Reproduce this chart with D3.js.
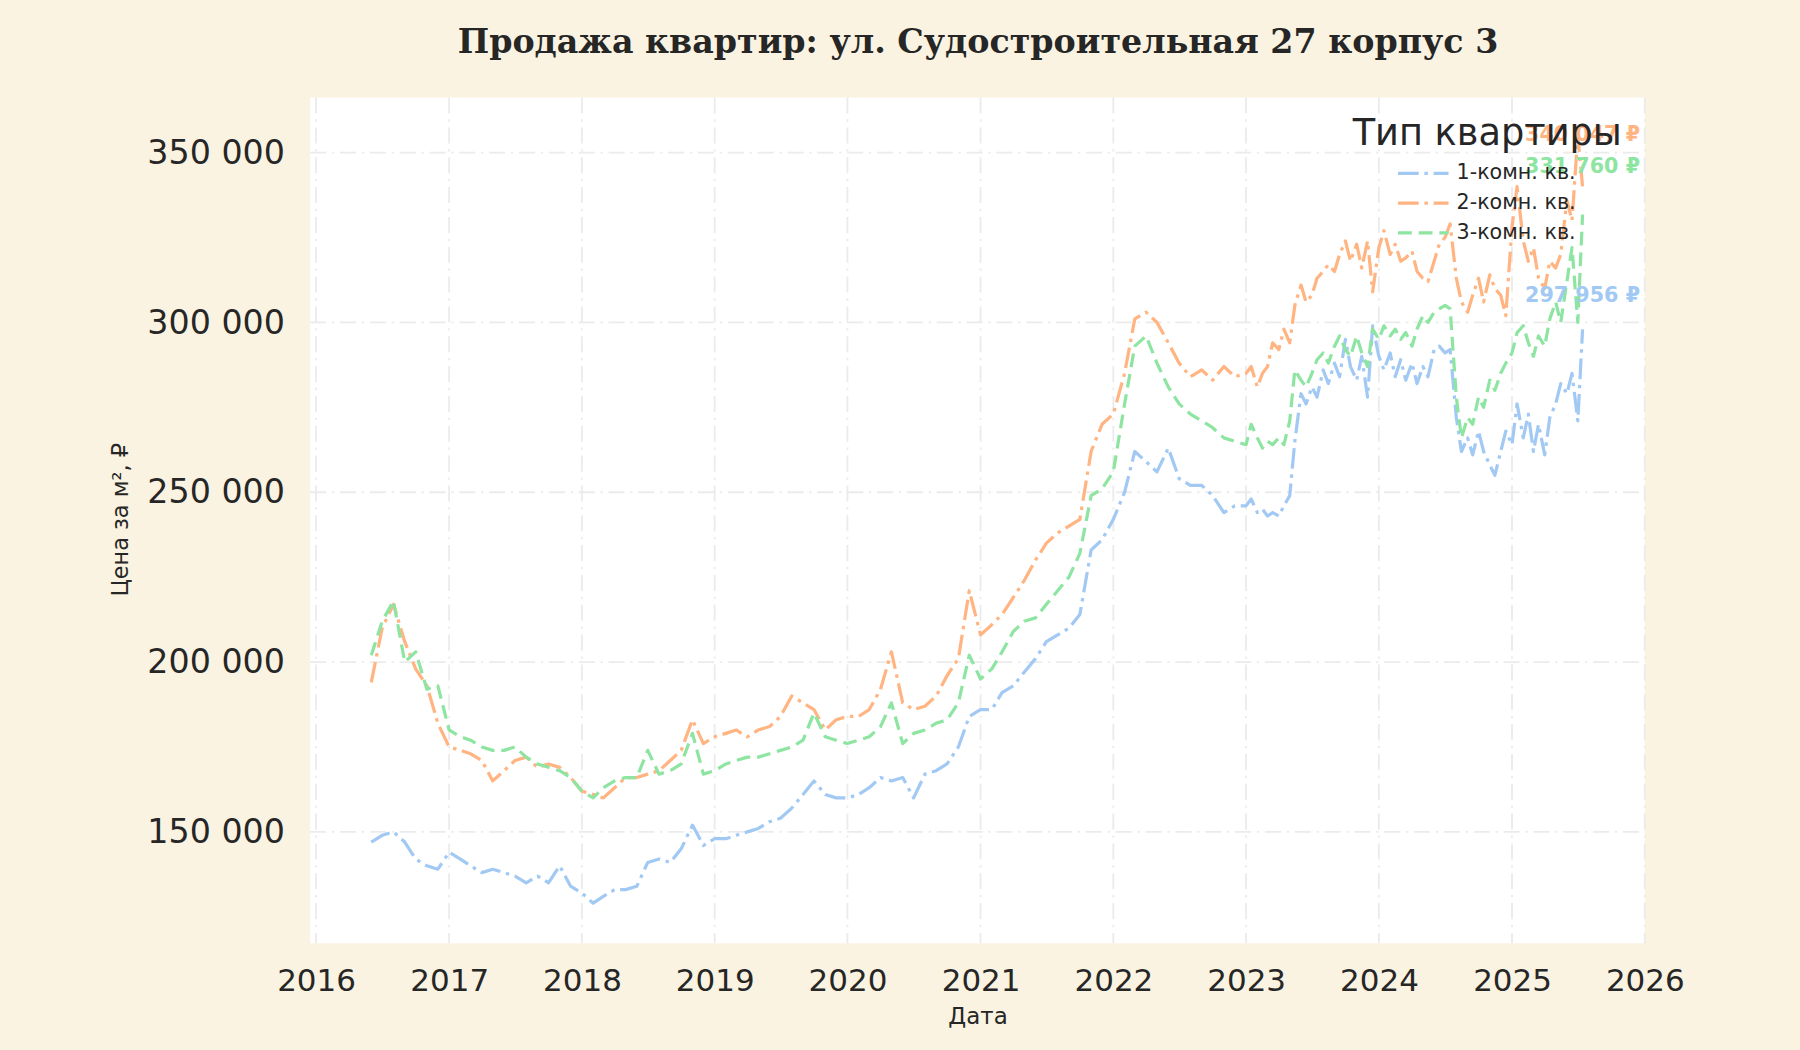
<!DOCTYPE html>
<html>
<head>
<meta charset="utf-8">
<script src="https://cdn.jsdelivr.net/npm/d3@7"></script>
<style>
  body { margin: 0; background: #faf3e1; }
  svg { display: block; }
</style>
</head>
<body>
<div id="chart"></div>
<script>
// Data
const monthlyDates = [
  "2016-06-01","2016-07-01","2016-08-01","2016-09-01","2016-10-01","2016-11-01","2016-12-01",
  "2017-01-01","2017-02-01","2017-03-01","2017-04-01","2017-05-01","2017-06-01","2017-07-01","2017-08-01","2017-09-01","2017-10-01","2017-11-01","2017-12-01",
  "2018-01-01","2018-02-01","2018-03-01","2018-04-01","2018-05-01","2018-06-01","2018-07-01","2018-08-01","2018-09-01","2018-10-01","2018-11-01","2018-12-01",
  "2019-01-01","2019-02-01","2019-03-01","2019-04-01","2019-05-01","2019-06-01","2019-07-01","2019-08-01","2019-09-01","2019-10-01","2019-11-01","2019-12-01",
  "2020-01-01","2020-02-01","2020-03-01","2020-04-01","2020-05-01","2020-06-01","2020-07-01","2020-08-01","2020-09-01","2020-10-01","2020-11-01","2020-12-01",
  "2021-01-01","2021-02-01","2021-03-01","2021-04-01","2021-05-01","2021-06-01","2021-07-01","2021-08-01","2021-09-01","2021-10-01","2021-11-01","2021-12-01",
  "2022-01-01","2022-02-01","2022-03-01","2022-04-01","2022-05-01","2022-06-01","2022-07-01","2022-08-01","2022-09-01","2022-10-01","2022-11-01","2022-12-01"
];
const halfMonthDates = [
  "2023-01-01","2023-01-15","2023-02-01","2023-02-15","2023-03-01","2023-03-15","2023-04-01","2023-04-15","2023-05-01","2023-05-15","2023-06-01","2023-06-15",
  "2023-07-01","2023-07-15","2023-08-01","2023-08-15","2023-09-01","2023-09-15","2023-10-01","2023-10-15","2023-11-01","2023-11-15","2023-12-01","2023-12-15",
  "2024-01-01","2024-01-15","2024-02-01","2024-02-15","2024-03-01","2024-03-15","2024-04-01","2024-04-15","2024-05-01","2024-05-15","2024-06-01","2024-06-15",
  "2024-07-01","2024-07-15","2024-08-01","2024-08-15","2024-09-01","2024-09-15","2024-10-01","2024-10-15","2024-11-01","2024-11-15","2024-12-01","2024-12-15",
  "2025-01-01","2025-01-15","2025-02-01","2025-02-15","2025-03-01","2025-03-15","2025-04-01","2025-04-15","2025-05-01","2025-05-15","2025-06-01","2025-06-15",
  "2025-07-01","2025-07-14"
];
const dates = monthlyDates.concat(halfMonthDates);

// price per m2, thousands of rubles
const room1 = [
  147,149,150,147,142,140,139,
  144,142,140,138,139,138,137,135,137,135,140,134,
  132,129,131,133,133,134,141,142,141,145,152,146,
  148,148,149,150,151,153,154,157,161,165,161,160,
  160,161,163,166,165,166,160,167,168,170,175,184,
  186,186,191,193,197,201,206,208,210,214,233,236,
  242,250,262,259,256,263,254,252,252,249,244,246,
  246,248,244,245,243,244,243,246,249,265,279,276,
  281,278,286,282,288,284,295,287,283,290,278,299,
  290,286,291,284,289,283,288,282,287,284,292,293,
  291,292,272,262,266,261,268,262,258,255,262,268,
  264,276,266,273,262,270,261,272,276,282,279,285,
  271,297.956
];
const room2 = [
  194,210,217,206,198,193,182,
  175,174,173,171,165,168,171,172,169,170,169,166,
  162,161,160,163,166,166,167,168,171,174,183,176,
  178,179,180,178,180,181,184,190,188,186,180,183,
  184,184,186,192,203,188,186,187,190,196,201,221,
  208,211,214,219,224,230,235,238,240,242,262,270,
  273,285,301,303,300,294,288,284,286,283,287,284,
  285,287,281,285,287,294,292,298,294,305,311,306,
  308,313,315,317,315,320,324,318,323,316,324,309,
  322,327,320,323,318,319,321,315,313,312,318,323,
  325,329,313,306,303,308,313,306,314,310,308,302,
  328,340,324,318,322,313,310,318,316,320,336,330,
  355,340.047
];
const room3 = [
  202,212,218,200,203,192,193,
  180,178,177,175,174,174,175,172,170,169,168,166,
  162,160,163,165,166,166,174,167,168,170,179,167,
  168,170,171,172,172,173,174,175,177,185,178,177,
  176,177,178,181,188,176,179,180,182,183,188,202,
  195,198,203,209,212,213,217,221,225,232,249,251,
  256,276,293,296,288,281,276,273,271,269,266,265,
  264,270,266,263,265,264,266,264,271,286,283,281,
  285,289,291,288,293,296,292,290,296,291,287,298,
  295,299,296,298,295,297,293,298,302,300,303,304,
  305,304,278,266,272,270,278,275,283,280,285,288,
  291,297,299,294,290,296,293,301,306,300,312,322,
  300,331.760
];

const seriesNames = ["1-комн. кв.", "2-комн. кв.", "3-комн. кв."];
const seriesValues = [room1, room2, room3];

const yTicks = [150000, 200000, 250000, 300000, 350000];
const xTickYears = [2016, 2017, 2018, 2019, 2020, 2021, 2022, 2023, 2024, 2025, 2026];

// Styles
const colors = ["#a1c9f4", "#ffb482", "#8de5a1"];
const dashes = ["18,5,3,5", "18,5,3,5", "12,6"];
const labelShift = [29, 45, 41];

// Dimensions (drawn in a 1568x915 frame, scaled to the window)
const W = 1568, H = 915;
const plot = { left: 270, top: 85, right: 1433, bottom: 822 };

const svg = d3.select("#chart")
  .append("svg")
    .attr("width", 1800)
    .attr("height", 1050)
    .attr("viewBox", `0 0 ${W} ${H}`);

svg.append("rect")
    .attr("width", W)
    .attr("height", H)
    .attr("fill", "#faf3e1");

svg.append("rect")
    .attr("x", plot.left)
    .attr("y", plot.top)
    .attr("width", plot.right - plot.left)
    .attr("height", plot.bottom - plot.top)
    .attr("fill", "#ffffff");

const parse = d3.utcParse("%Y-%m-%d");
const dateObjs = dates.map(parse);

const xScale = d3.scaleUtc()
  .domain([parse("2015-12-16"), parse("2026-01-01")])
  .range([plot.left, plot.right]);
const yScale = d3.scaleLinear()
  .domain([117200, 366200])
  .range([plot.bottom, plot.top]);

const fmt = v => d3.format(",")(v).replace(/,/g, " ");

// Grid
const grid = svg.append("g").attr("class", "grid");
grid.selectAll(".gx")
  .data(xTickYears)
  .join("line")
    .attr("x1", d => xScale(Date.UTC(d, 0, 1)))
    .attr("x2", d => xScale(Date.UTC(d, 0, 1)))
    .attr("y1", plot.top)
    .attr("y2", plot.bottom)
    .attr("stroke", "#ebebeb")
    .attr("stroke-width", 1.6)
    .attr("stroke-dasharray", "14,5,2,5");
grid.selectAll(".gy")
  .data(yTicks)
  .join("line")
    .attr("x1", plot.left)
    .attr("x2", plot.right)
    .attr("y1", d => yScale(d))
    .attr("y2", d => yScale(d))
    .attr("stroke", "#ebebeb")
    .attr("stroke-width", 1.6)
    .attr("stroke-dasharray", "14,5,2,5");

// Axes
const bottomAxis = d3.axisBottom(xScale)
  .tickValues(xTickYears.map(y => new Date(Date.UTC(y, 0, 1))))
  .tickFormat(d3.utcFormat("%Y"))
  .tickSize(0)
  .tickPadding(22);
const xAxisG = svg.append("g")
    .attr("transform", `translate(0, ${plot.bottom})`)
    .call(bottomAxis);

const leftAxis = d3.axisLeft(yScale)
  .tickValues(yTicks)
  .tickFormat(fmt)
  .tickSize(0)
  .tickPadding(22);
const yAxisG = svg.append("g")
    .attr("transform", `translate(${plot.left}, 0)`)
    .call(leftAxis);

[xAxisG, yAxisG].forEach(g => {
  g.select(".domain").remove();
  g.selectAll("text")
    .attr("font-family", "DejaVu Sans")
    .attr("fill", "#262626");
});
xAxisG.selectAll("text").attr("font-size", 27);
yAxisG.selectAll("text").attr("font-size", 29);

// Titles
svg.append("text")
    .attr("x", 852)
    .attr("y", 46)
    .attr("text-anchor", "middle")
    .attr("font-family", "DejaVu Serif")
    .attr("font-weight", "bold")
    .attr("font-size", 29)
    .attr("fill", "#262626")
    .text("Продажа квартир: ул. Судостроительная 27 корпус 3");

svg.append("text")
    .attr("x", 852)
    .attr("y", 887)
    .attr("text-anchor", "middle")
    .attr("dominant-baseline", "middle")
    .attr("font-family", "DejaVu Sans")
    .attr("font-size", 20)
    .attr("fill", "#262626")
    .text("Дата");

svg.append("text")
    .attr("transform", `translate(106, 453) rotate(-90)`)
    .attr("text-anchor", "middle")
    .attr("dominant-baseline", "middle")
    .attr("font-family", "DejaVu Sans")
    .attr("font-size", 19.5)
    .attr("fill", "#262626")
    .text("Цена за м², ₽");

// Lines
const line = d3.line()
  .x((d, i) => xScale(dateObjs[i]))
  .y(d => yScale(d * 1000));

svg.append("g")
    .attr("class", "lines")
  .selectAll("path")
  .data(seriesValues)
  .join("path")
    .attr("d", d => line(d))
    .attr("fill", "none")
    .attr("stroke", (d, i) => colors[i])
    .attr("stroke-width", 2.8)
    .attr("stroke-dasharray", (d, i) => dashes[i])
    .attr("stroke-linejoin", "round");

// End labels
svg.append("g")
  .selectAll("text")
  .data(seriesValues)
  .join("text")
    .attr("x", xScale(dateObjs[dateObjs.length - 1]))
    .attr("y", (d, i) => yScale(d[d.length - 1] * 1000) - labelShift[i])
    .attr("text-anchor", "middle")
    .attr("dominant-baseline", "middle")
    .attr("font-family", "DejaVu Sans")
    .attr("font-weight", "bold")
    .attr("font-size", 18)
    .attr("fill", (d, i) => colors[i])
    .text(d => fmt(Math.round(d[d.length - 1] * 1000)) + " ₽");

// Legend
const legend = svg.append("g");
legend.append("text")
    .attr("x", 1413)
    .attr("y", 117)
    .attr("text-anchor", "end")
    .attr("dominant-baseline", "middle")
    .attr("font-family", "DejaVu Sans")
    .attr("font-size", 32)
    .attr("fill", "#262626")
    .text("Тип квартиры");

const items = legend.selectAll(".item")
  .data(seriesNames)
  .join("g")
    .attr("transform", (d, i) => `translate(1218, ${151 + i * 26})`);
items.append("line")
    .attr("x1", 0)
    .attr("x2", 44)
    .attr("stroke", (d, i) => colors[i])
    .attr("stroke-width", 2.8)
    .attr("stroke-dasharray", (d, i) => dashes[i]);
items.append("text")
    .attr("x", 51)
    .attr("dominant-baseline", "middle")
    .attr("font-family", "DejaVu Sans")
    .attr("font-size", 18)
    .attr("fill", "#262626")
    .text(d => d);
</script>
</body>
</html>
